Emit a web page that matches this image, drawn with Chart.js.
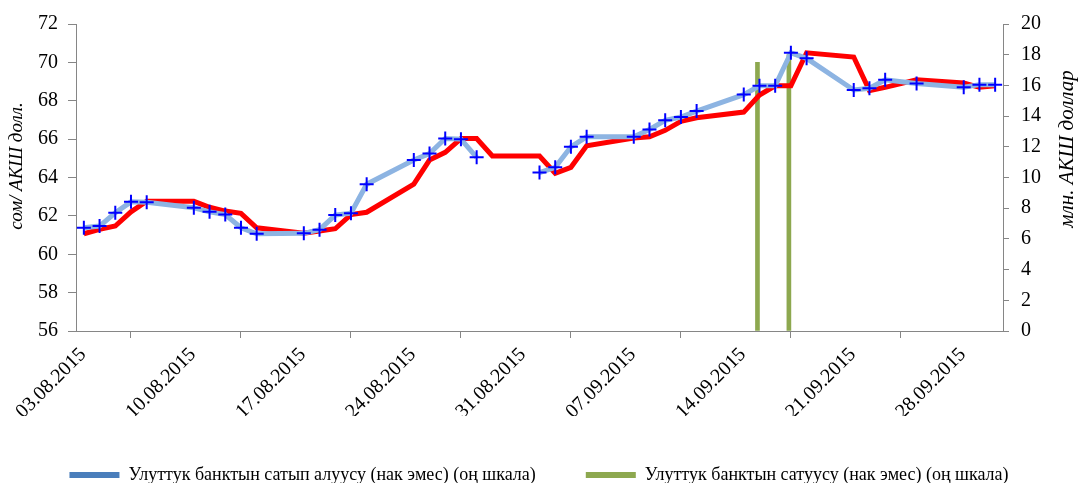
<!DOCTYPE html>
<html>
<head>
<meta charset="utf-8">
<script src="https://cdn.jsdelivr.net/npm/chart.js@4"></script>
<style>
  html, body { margin: 0; padding: 0; background: #fff; }
  #wrap { width: 1078px; height: 483px; }
</style>
</head>
<body>
<div id="wrap"><canvas id="rateChart" width="1078" height="483"></canvas></div>
<script>
// Exchange rate (left axis) and NBKR interventions (right axis), Aug-Sep 2015

const startDate = '03.08.2015';
const dayCount = 59;

// market rate, blue line with crosses (null = gap)
const marketDates = ['03.08.2015', '04.08.2015', '05.08.2015', '06.08.2015', '07.08.2015',
    '10.08.2015', '11.08.2015', '12.08.2015', '13.08.2015', '14.08.2015',
    '17.08.2015', '18.08.2015', '19.08.2015', '20.08.2015', '21.08.2015',
    '24.08.2015', '25.08.2015', '26.08.2015', '27.08.2015', '28.08.2015',
    '31.08.2015', '01.09.2015', '02.09.2015', '03.09.2015', '04.09.2015',
    '07.09.2015', '08.09.2015', '09.09.2015', '10.09.2015', '11.09.2015',
    '14.09.2015', '15.09.2015', '16.09.2015', '17.09.2015', '18.09.2015',
    '21.09.2015', '22.09.2015', '23.09.2015', '25.09.2015',
    '28.09.2015', '29.09.2015', '30.09.2015'];
const marketValues = [61.38, 61.47, 62.16, 62.73, 62.71,
    62.42, 62.21, 62.07, 61.38, 61.07,
    61.09, 61.28, 62.04, 62.14, 63.65,
    64.91, 65.25, 66.03, 66.00, 65.05,
    null, 64.26, 64.53, 65.60, 66.12,
    66.12, 66.50, 66.98, 67.15, 67.46,
    68.32, 68.78, 68.78, 70.50, 70.21,
    68.56, 68.65, 69.09, 68.90,
    68.70, 68.84, 68.84];

// official rate, red line
const officialDates = ['03.08.2015', '04.08.2015', '05.08.2015', '06.08.2015', '07.08.2015',
    '10.08.2015', '11.08.2015', '12.08.2015', '13.08.2015', '14.08.2015',
    '17.08.2015', '18.08.2015', '19.08.2015', '20.08.2015', '21.08.2015',
    '24.08.2015', '25.08.2015', '26.08.2015', '27.08.2015', '28.08.2015',
    '29.08.2015', '01.09.2015', '02.09.2015', '03.09.2015', '04.09.2015',
    '07.09.2015', '08.09.2015', '09.09.2015', '10.09.2015', '11.09.2015',
    '14.09.2015', '15.09.2015', '16.09.2015', '17.09.2015', '18.09.2015',
    '21.09.2015', '22.09.2015', '23.09.2015', '25.09.2015',
    '28.09.2015', '29.09.2015', '30.09.2015'];
const officialValues = [61.07, 61.30, 61.47, 62.21, 62.76,
    62.76, 62.45, 62.25, 62.13, 61.38,
    61.09, 61.21, 61.33, 62.07, 62.19,
    63.65, 64.91, 65.31, 66.03, 66.03,
    65.12, 65.12, 64.22, 64.53, 65.65,
    66.06, 66.12, 66.46, 66.93, 67.11,
    67.41, 68.30, 68.78, 68.78, 70.50,
    70.28, 68.53, 68.70, 69.09,
    68.92, 68.70, 68.78];

// NBKR interventions, mln USD (right axis)
const purchaseDates = [];
const purchaseValues = [];
const saleDates = ['15.09.2015', '17.09.2015'];
const saleValues = [17.5, 18.0];

const leftTicks = [56, 72, 2];
const rightTicks = [0, 20, 2];

function parseDate(s) {
    const p = s.split('.').map(Number);
    return Date.UTC(p[2], p[1] - 1, p[0]);
}
function dayIndex(s) {
    return Math.round((parseDate(s) - parseDate(startDate)) / 864e5);
}
function dayLabel(i) {
    const d = new Date(parseDate(startDate) + i * 864e5);
    const pad = n => String(n).padStart(2, '0');
    return pad(d.getUTCDate()) + '.' + pad(d.getUTCMonth() + 1) + '.' + d.getUTCFullYear();
}
function points(dates, values) {
    return dates.map((d, i) => ({ x: dayIndex(d) + 0.5, y: values[i] }));
}

const axisGray = '#868686';
const serif = 'Liberation Serif';

// both axis titles read bottom-to-top
const axisTitles = {
    id: 'axisTitles',
    afterDraw(chart) {
        const ctx = chart.ctx;
        const put = (text, x, y, size) => {
            ctx.save();
            ctx.translate(x, y);
            ctx.rotate(-Math.PI / 2);
            ctx.font = 'italic ' + size + 'px "' + serif + '"';
            ctx.fillStyle = '#000';
            ctx.textAlign = 'center';
            ctx.textBaseline = 'middle';
            ctx.fillText(text, 0, 0);
            ctx.restore();
        };
        put('сом/ АКШ долл.', 17, 166, 19);
        put('млн. АКШ доллар', 1067, 149, 21);
    }
};

const ctx = document.getElementById('rateChart').getContext('2d');
new Chart(ctx, {
    type: 'line',
    data: {
        datasets: [{
            type: 'bar',
            label: 'Улуттук банктын сатып алуусу (нак эмес) (оң шкала)',
            data: points(purchaseDates, purchaseValues),
            yAxisID: 'y1',
            backgroundColor: '#4A7EBB',
            barThickness: 4,
            order: 4
        }, {
            type: 'bar',
            label: 'Улуттук банктын сатуусу (нак эмес) (оң шкала)',
            data: points(saleDates, saleValues),
            yAxisID: 'y1',
            backgroundColor: '#8DA84F',
            barThickness: 4,
            order: 3
        }, {
            label: 'Расмий курс',
            data: points(officialDates, officialValues),
            yAxisID: 'y',
            borderColor: '#FF0000',
            borderWidth: 5,
            pointRadius: 0,
            tension: 0,
            fill: false,
            spanGaps: true,
            order: 2
        }, {
            label: 'Биржадагы курс',
            data: points(marketDates, marketValues),
            yAxisID: 'y',
            borderColor: '#8DB4E2',
            borderWidth: 5,
            pointStyle: 'cross',
            pointRadius: 7,
            pointBorderColor: '#0000FF',
            pointBorderWidth: 2,
            pointBackgroundColor: '#0000FF',
            tension: 0,
            fill: false,
            spanGaps: false,
            order: 1
        }]
    },
    options: {
        responsive: false,
        animation: false,
        layout: { padding: { top: 14, left: 0, right: 0, bottom: -11 } },
        plugins: {
            legend: {
                position: 'bottom',
                labels: {
                    filter: item => item.datasetIndex < 2,
                    sort: (a, b) => a.datasetIndex - b.datasetIndex,
                    boxWidth: 50,
                    boxHeight: 6,
                    padding: 50,
                    color: '#000',
                    font: { family: serif, size: 18 }
                }
            },
            tooltip: { enabled: false }
        },
        scales: {
            x: {
                type: 'linear',
                min: 0,
                max: dayCount,
                offset: false,
                afterFit: s => { s.height = 85; },
                border: { color: axisGray, width: 1 },
                grid: { drawOnChartArea: false, tickLength: 7, color: axisGray },
                ticks: {
                    stepSize: 7,
                    includeBounds: false,
                    autoSkip: false,
                    minRotation: 45,
                    maxRotation: 45,
                    padding: 5,
                    labelOffset: 7,
                    color: '#000',
                    font: { family: serif, size: 20 },
                    callback: v => dayLabel(v)
                }
            },
            y: {
                position: 'left',
                min: leftTicks[0],
                max: leftTicks[1],
                afterFit: s => { s.width = 76; },
                border: { color: axisGray, width: 1 },
                grid: { drawOnChartArea: false, tickLength: 8, color: axisGray },
                ticks: {
                    stepSize: leftTicks[2],
                    padding: 10,
                    color: '#000',
                    font: { family: serif, size: 20 }
                }
            },
            y1: {
                position: 'right',
                min: rightTicks[0],
                max: rightTicks[1],
                afterFit: s => { s.width = 75; },
                border: { color: axisGray, width: 1 },
                grid: { drawOnChartArea: false, tickLength: 6, color: axisGray },
                ticks: {
                    stepSize: rightTicks[2],
                    padding: 12,
                    color: '#000',
                    font: { family: serif, size: 20 }
                }
            }
        }
    },
    plugins: [axisTitles]
});
</script>
</body>
</html>
